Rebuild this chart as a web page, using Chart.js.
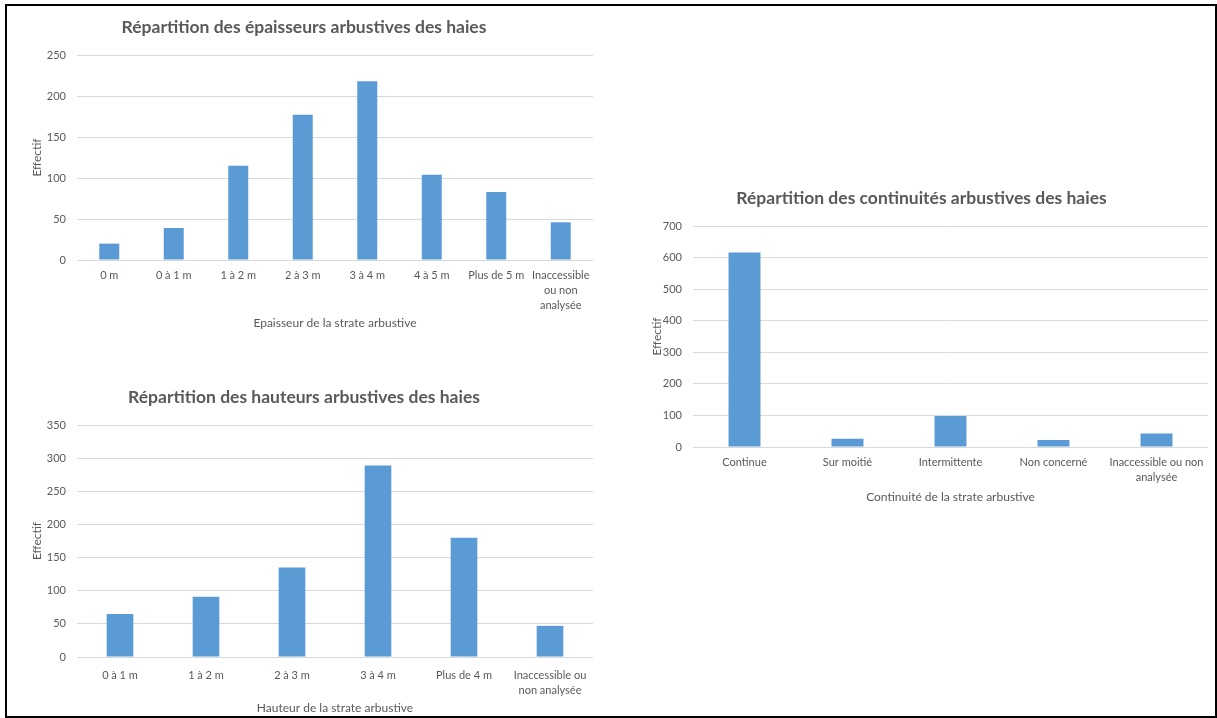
<!DOCTYPE html>
<html lang="fr">
<head>
<meta charset="utf-8">
<script src="https://cdn.jsdelivr.net/npm/chart.js@4.4.1/dist/chart.umd.min.js"></script>
<style>
  html, body { margin: 0; padding: 0; background: #fff; }
  #page { position: relative; width: 1217px; height: 718px; overflow: hidden; background: #fff; }
  #frame { position: absolute; left: 5px; top: 4px; width: 1208px; height: 710px; border: 2px solid #000; }
  canvas { position: absolute; }
</style>
</head>
<body>
<div id="page">
  <div id="frame"></div>
  <canvas id="epaisseur" width="590" height="330" style="left:15px;top:10px;width:590px;height:330px"></canvas>
  <canvas id="hauteur" width="590" height="338" style="left:15px;top:380px;width:590px;height:338px"></canvas>
  <canvas id="continuite" width="578" height="329" style="left:635px;top:181px;width:578px;height:329px"></canvas>
</div>
<script>
// Effectifs par classe d'épaisseur
const epaisseurLabels = ['0 m', '0 à 1 m', '1 à 2 m', '2 à 3 m', '3 à 4 m', '4 à 5 m', 'Plus de 5 m', ['Inaccessible', 'ou non', 'analysée']];
const epaisseurValues = [20, 39, 115, 177, 218, 104, 83, 46];
const epaisseurTicks = [0, 50, 100, 150, 200, 250];

// Effectifs par classe de hauteur
const hauteurLabels = ['0 à 1 m', '1 à 2 m', '2 à 3 m', '3 à 4 m', 'Plus de 4 m', ['Inaccessible ou', 'non analysée']];
const hauteurValues = [65, 91, 135, 289, 180, 47];
const hauteurTicks = [0, 50, 100, 150, 200, 250, 300, 350];

// Effectifs par type de continuité
const continuiteLabels = ['Continue', 'Sur moitié', 'Intermittente', 'Non concerné', ['Inaccessible ou non', 'analysée']];
const continuiteValues = [616, 26, 98, 22, 43];
const continuiteTicks = [0, 100, 200, 300, 400, 500, 600, 700];

const BAR_COLOR = '#5B9BD5';
const GRID_COLOR = '#D9D9D9';
const TEXT_COLOR = '#595959';
const FONT = 'Lato, "Open Sans", sans-serif';

function makeChart(id, title, xTitle, labels, values, ticks, geo) {
    const ctx = document.getElementById(id).getContext('2d');
    return new Chart(ctx, {
        type: 'bar',
        data: {
            labels: labels,
            datasets: [{
                data: values,
                backgroundColor: BAR_COLOR,
                borderWidth: 0,
                categoryPercentage: 1,
                barPercentage: 0.31
            }]
        },
        options: {
            responsive: false,
            animation: false,
            layout: { padding: { left: 0, right: geo.padRight, top: 0, bottom: 0 } },
            plugins: {
                legend: { display: false },
                tooltip: { enabled: false },
                title: {
                    display: true,
                    text: title,
                    color: TEXT_COLOR,
                    font: { family: FONT, size: 17.5, weight: 'bold', lineHeight: 1.2 },
                    padding: { top: 6.5, bottom: 17.5 }
                }
            },
            scales: {
                x: {
                    grid: { display: false, drawTicks: false },
                    border: { display: false },
                    ticks: {
                        color: TEXT_COLOR,
                        font: { family: FONT, size: 11, lineHeight: 1.35 },
                        padding: geo.xTickPad,
                        maxRotation: 0,
                        autoSkip: false
                    },
                    title: {
                        display: true,
                        text: xTitle,
                        color: TEXT_COLOR,
                        font: { family: FONT, size: 12, lineHeight: 1.2 },
                        padding: { top: 0, bottom: geo.xTitlePad }
                    },
                    afterFit: s => { s.height = geo.xHeight; }
                },
                y: {
                    min: ticks[0],
                    max: ticks[ticks.length - 1],
                    grid: { color: GRID_COLOR, lineWidth: 1, drawTicks: false },
                    border: { display: false },
                    ticks: {
                        stepSize: ticks[1] - ticks[0],
                        color: TEXT_COLOR,
                        font: { family: FONT, size: 11 },
                        padding: 11
                    },
                    title: {
                        display: true,
                        text: 'Effectif',
                        color: TEXT_COLOR,
                        font: { family: FONT, size: 12, lineHeight: 1.2 },
                        padding: { top: geo.yTitlePad, bottom: 0 }
                    },
                    afterFit: s => { s.width = geo.yWidth; }
                }
            }
        }
    });
}

makeChart('epaisseur', 'Répartition des épaisseurs arbustives des haies', 'Epaisseur de la strate arbustive',
    epaisseurLabels, epaisseurValues, epaisseurTicks,
    { padRight: 12, yWidth: 62, xHeight: 80, xTickPad: 8.5, xTitlePad: 9.8, yTitlePad: 14.8 });

makeChart('hauteur', 'Répartition des hauteurs arbustives des haies', 'Hauteur de la strate arbustive',
    hauteurLabels, hauteurValues, hauteurTicks,
    { padRight: 12, yWidth: 62, xHeight: 61, xTickPad: 11, xTitlePad: 2.8, yTitlePad: 14.8 });

makeChart('continuite', 'Répartition des continuités arbustives des haies', 'Continuité de la strate arbustive',
    continuiteLabels, continuiteValues, continuiteTicks,
    { padRight: 5, yWidth: 58, xHeight: 63, xTickPad: 8.5, xTitlePad: 5.8, yTitlePad: 14.8 });
</script>
</body>
</html>
